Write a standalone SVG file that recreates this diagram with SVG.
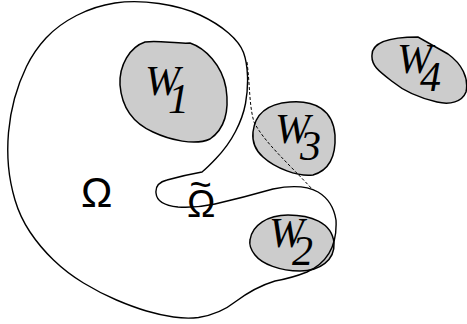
<svg xmlns="http://www.w3.org/2000/svg" width="467" height="324" viewBox="0 0 467 324">
<style>
.blob{fill:#cccccc;stroke:#000;stroke-width:1.5}
.curve{fill:none;stroke:#000;stroke-width:1.4}
.dash{fill:none;stroke:#000;stroke-width:1;stroke-dasharray:3 2}
.w{font-family:"Liberation Serif","Times New Roman",serif;font-style:italic;font-size:42px;fill:#000}
.om{font-family:"Liberation Sans",Arial,sans-serif;fill:#000}
</style>
<rect width="467" height="324" fill="#fff"/>
<g id="W1">
<path class="blob" d="M 145,42 C 160,40 175,44 190,43 C 205,48 222,65 226,88 C 229,108 226,128 210,139 C 195,146 170,140 153,132 C 135,124 122,110 120,85 C 119,65 130,47 145,42 Z"/>
<text class="w" x="145" y="95">W<tspan dx="-12" dy="18">1</tspan></text>
</g>
<g id="W3">
<path class="blob" d="M 253,132 C 255,115 265,104 290,102 C 315,100 333,110 335,135 C 336,155 330,170 313,175 C 298,177 275,168 263,157 C 255,150 252,142 253,132 Z"/>
<text class="w" x="275" y="143">W<tspan dx="-10" dy="17">3</tspan></text>
</g>
<g id="W2">
<path class="blob" d="M 250,240 C 252,225 268,215 288,215 C 310,215 332,222 334,243 C 335,260 320,271 300,271 C 280,271 262,264 255,255 C 251,250 249,245 250,240 Z"/>
<text class="w" x="269" y="247">W<tspan dx="-12" dy="18">2</tspan></text>
</g>
<g id="W4">
<path class="blob" d="M 372,55 C 372,42 390,37 418,37 L 448,54 C 462,64 469,78 466,92 C 462,102 450,105 437,102 C 420,98 405,92 393,82 C 380,72 371,66 372,55 Z"/>
<text class="w" x="397" y="73">W<tspan dx="-12" dy="18">4</tspan></text>
</g>
<g id="connectors">
<path id="omega-boundary" class="curve" d="M 198.5,317.5 Q 187,319 173.5,317 Q 160,315 146.5,311 Q 133,307 116.5,300 Q 100,293 83.5,283 Q 67,273 53.5,260 Q 40,247 30,232 Q 20,217 15,200 Q 10,183 8.5,166.5 Q 7,150 8.5,132.5 Q 10,115 14.5,98.5 Q 19,82 26.5,66.5 Q 34,51 46,38 Q 58,25 76.5,15.5 Q 95,6 115,3 Q 135,0 159,3.5 Q 183,7 200,15 Q 217,23 228.5,33 Q 240,43 243.5,52.5 Q 247,62 247.5,76 Q 248,90 245.5,103.5 Q 243,117 235.5,131.5 Q 228,146 216,158.5 Q 208,167 202,172 Q 185,175 167,180 Q 155,183 156,193 Q 157,205 178,207 Q 197,208 215,204 Q 245,197 273,189 Q 302,183 318,192 Q 333,201 336,220 Q 338,258 307,272 Q 292,278 275,281 Q 255,287 235,302 Q 220,314 198.5,317.5 Z"/>
<path id="dashed-boundary" class="dash" d="M 247,62 C 250,85 249,105 254,122 C 264,142 288,163 313,190"/>
</g>
<g id="labels">
<text class="om" x="81" y="207" font-size="42">Ω</text>
<text class="om" x="187" y="217" font-size="38">Ω<tspan dx="-26" dy="-19">~</tspan></text>
</g>
</svg>
